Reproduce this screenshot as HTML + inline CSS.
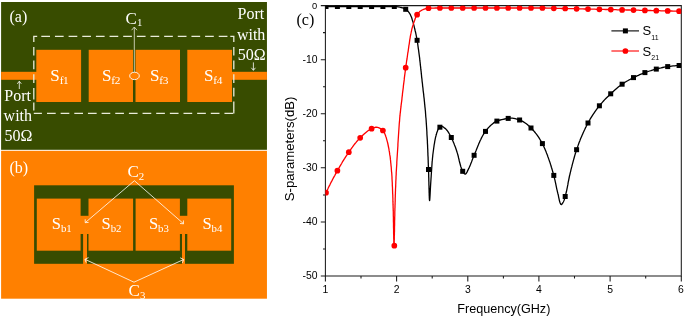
<!DOCTYPE html>
<html lang="en"><head><meta charset="utf-8"><title>Figure</title>
<style>html,body{margin:0;padding:0;background:#fff}svg{display:block}.se{font-family:"Liberation Serif",serif;fill:#fff}.sa{font-family:"Liberation Sans",sans-serif;fill:#000}</style></head><body>
<svg width="685" height="318" viewBox="0 0 685 318">
<rect width="685" height="318" fill="#fff"/>
<rect x="1.1" y="2" width="265.85" height="147.8" fill="#384c00"/>
<rect x="1.1" y="71.8" width="36" height="8" fill="#ff8000"/>
<rect x="231" y="71.8" width="35.95" height="8" fill="#ff8000"/>
<rect x="36.3" y="49.8" width="44.8" height="52.2" fill="#ff8000"/>
<rect x="88.7" y="49.8" width="44.3" height="52.2" fill="#ff8000"/>
<rect x="135.5" y="49.8" width="44.5" height="52.2" fill="#ff8000"/>
<rect x="187.3" y="49.8" width="44.7" height="52.2" fill="#ff8000"/>
<g fill="none" stroke="#e9ebd9" stroke-width="1.3"><path d="M33.8 42 V36.4 H37.2 M230.3 36.4 H233.8 V42 M33.8 113.4 H41.9 M233.8 110 V113.4 M33.8 46.9 v8.7 m0 5 v8.7 m0 5 v8.7 m0 5.1 v11.3 m0 3 v8.2"/><path stroke-dasharray="8.7 4.95" d="M41.3 36.4 H229 M233.8 46.9 V113.4 M47 113.4 H233.8"/></g>
<line x1="134.3" y1="27.3" x2="134.3" y2="72.5" stroke="#e8e8d8" stroke-width="0.8"/>
<path d="M131.6 30.2 L134.3 27 L137 30.2" fill="none" stroke="#e8e8d8" stroke-width="0.8"/>
<ellipse cx="134.5" cy="75.9" rx="4.8" ry="3.7" fill="#ff8000" stroke="#fff" stroke-width="0.9"/>
<g class="se" font-size="16">
<text x="9.5" y="22">(a)</text>
<text x="125.4" y="24.3" font-size="17">C<tspan font-size="10.8" dy="1.6" dx="0.3">1</tspan></text>
<text x="50.2" y="80.8" font-size="17">S<tspan font-size="11.3" dy="3" letter-spacing="-0.3">f1</tspan></text>
<text x="101.9" y="80.8" font-size="17">S<tspan font-size="11.3" dy="3" letter-spacing="-0.3">f2</tspan></text>
<text x="149.9" y="80.8" font-size="17">S<tspan font-size="11.3" dy="3" letter-spacing="-0.3">f3</tspan></text>
<text x="203.9" y="80.8" font-size="17">S<tspan font-size="11.3" dy="3" letter-spacing="-0.3">f4</tspan></text>
<text x="4.3" y="101.2">Port</text><text x="3.6" y="120.6">with</text><text x="4.6" y="141.2">50Ω</text>
<text x="237.6" y="19.4">Port</text><text x="236.9" y="40.2">with</text><text x="237.8" y="59.9">50Ω</text>
</g>
<path d="M19.3 89 V81.5 M17.3 83.8 L19.3 81.2 L21.3 83.8" fill="none" stroke="#fff" stroke-width="0.8"/>
<path d="M253.4 62.4 V70 M251.4 67.8 L253.4 70.4 L255.4 67.8" fill="none" stroke="#fff" stroke-width="0.8"/>
<rect x="1.1" y="150.8" width="265.85" height="147.9" fill="#ff8000"/>
<rect x="34.1" y="185.3" width="199.8" height="78.5" fill="#384c00"/>
<rect x="36.8" y="198.6" width="43.8" height="52.1" fill="#ff8000"/>
<rect x="88.5" y="198.6" width="44.6" height="52.1" fill="#ff8000"/>
<rect x="135.6" y="198.6" width="44.3" height="52.1" fill="#ff8000"/>
<rect x="187.3" y="198.6" width="43.9" height="52.1" fill="#ff8000"/>
<rect x="80" y="215.8" width="10" height="18.2" fill="#ff8000"/>
<rect x="179" y="215.8" width="10" height="18.2" fill="#ff8000"/>
<rect x="83.1" y="230" width="3.9" height="34" fill="#ff8000"/>
<rect x="182" y="230" width="3" height="34" fill="#ff8000"/>
<g fill="none" stroke="#fff" stroke-width="0.8">
<path d="M134.4 180.7 L85.4 222.5 M134.4 180.7 L183.4 223.6"/>
<path d="M85.2 219.3 L85.2 222.7 L88.6 222.4 M180 223.5 L183.5 223.8 L183.4 220.4"/>
<path d="M134 282.2 L85.2 259.4 M134 282.2 L183.4 259.6"/>
<path d="M86.2 262.6 L84.9 259.3 L88.5 257.6 M180.2 257.8 L183.7 259.5 L182.4 262.8"/>
</g>
<g class="se" font-size="16">
<text x="9.5" y="172.5">(b)</text>
<text x="127.4" y="177.1" font-size="17">C<tspan font-size="10.8" dy="2.6">2</tspan></text>
<text x="128.6" y="296" font-size="17">C<tspan font-size="10.8" dy="3.4">3</tspan></text>
<text x="51.7" y="229.1" font-size="16.5">S<tspan font-size="10.8" dy="2.7">b1</tspan></text>
<text x="101.5" y="229.1" font-size="16.5">S<tspan font-size="10.8" dy="2.7">b2</tspan></text>
<text x="148.9" y="229.1" font-size="16.5">S<tspan font-size="10.8" dy="2.7">b3</tspan></text>
<text x="202.4" y="229.1" font-size="16.5">S<tspan font-size="10.8" dy="2.7">b4</tspan></text>
</g>
<g stroke="#1a1a1a" stroke-width="1.05" fill="none">
<path d="M325.4 5.6 H681.3 V276.0 H325.4 Z"/>
<path d="M325.4 276.0 v5.4 M361.0 276.0 v2.6 M396.6 276.0 v5.4 M432.2 276.0 v2.6 M467.8 276.0 v5.4 M503.4 276.0 v2.6 M538.9 276.0 v5.4 M574.5 276.0 v2.6 M610.1 276.0 v5.4 M645.7 276.0 v2.6 M681.3 276.0 v5.4 M325.4 5.6 h-4.6 M325.4 32.6 h-2.4 M325.4 59.7 h-4.6 M325.4 86.7 h-2.4 M325.4 113.8 h-4.6 M325.4 140.8 h-2.4 M325.4 167.8 h-4.6 M325.4 194.9 h-2.4 M325.4 221.9 h-4.6 M325.4 249.0 h-2.4 M325.4 276.0 h-4.6"/>
</g>
<g class="sa" font-size="10.4" text-anchor="middle">
<text x="325.4" y="292.6">1</text>
<text x="396.6" y="292.6">2</text>
<text x="467.8" y="292.6">3</text>
<text x="538.9" y="292.6">4</text>
<text x="610.1" y="292.6">5</text>
<text x="681.0" y="292.6">6</text>
</g><g class="sa" font-size="10.4" text-anchor="end">
<text x="317.2" y="8.7" font-size="9.3">0</text>
<text x="317.5" y="63.0">-10</text>
<text x="317.5" y="117.1">-20</text>
<text x="317.5" y="171.1">-30</text>
<text x="317.5" y="225.2">-40</text>
<text x="317.5" y="279.3">-50</text>
</g>
<text class="sa" font-size="12.6" x="503.8" y="313.4" text-anchor="middle">Frequency(GHz)</text>
<text class="sa" font-size="13.2" transform="translate(294.3 148.9) rotate(-90)" text-anchor="middle">S-parameters(dB)</text>
<text x="296.5" y="24.5" font-size="16" style="font-family:'Liberation Serif',serif" fill="#000">(c)</text>
<clipPath id="cp"><rect x="325.4" y="5.6" width="355.9" height="270.4"/></clipPath><g clip-path="url(#cp)">
<path d="M326.0 6.5 L327.5 6.5 L329.0 6.5 L330.5 6.5 L332.0 6.5 L333.5 6.5 L335.0 6.5 L336.5 6.5 L338.0 6.5 L339.5 6.5 L341.0 6.5 L342.5 6.5 L344.1 6.5 L345.6 6.5 L347.1 6.5 L348.6 6.5 L350.1 6.5 L351.6 6.5 L353.1 6.5 L354.6 6.5 L356.1 6.5 L357.6 6.5 L359.1 6.5 L360.2 6.5 L360.6 6.5 L362.1 6.5 L363.6 6.5 L365.1 6.5 L366.6 6.5 L368.1 6.5 L369.6 6.5 L371.1 6.5 L372.6 6.5 L374.1 6.5 L375.7 6.5 L377.2 6.5 L378.7 6.5 L380.2 6.5 L381.7 6.5 L383.2 6.5 L384.7 6.5 L386.2 6.5 L387.7 6.5 L389.2 6.5 L390.7 6.5 L392.2 6.5 L393.7 6.5 L394.3 6.5 L395.2 6.5 L396.7 6.7 L398.2 6.9 L399.7 7.1 L400.0 7.2 L401.1 7.5 L402.6 7.9 L404.1 8.5 L405.4 9.1 L405.7 9.3 L406.6 9.9 L407.7 10.9 L408.7 12.1 L409.6 13.4 L410.0 14.0 L410.3 14.6 L410.9 15.9 L411.5 17.3 L412.0 18.8 L412.4 20.3 L412.9 21.7 L413.3 23.2 L413.5 24.0 L413.7 24.7 L414.1 26.1 L414.4 27.6 L414.8 29.0 L415.1 30.5 L415.5 32.0 L415.8 33.4 L416.1 34.9 L416.4 36.4 L416.7 37.9 L417.0 39.3 L417.1 40.3 L417.2 40.8 L417.5 42.3 L417.7 43.8 L417.9 45.3 L418.1 46.8 L418.3 48.3 L418.5 49.7 L418.7 51.2 L418.9 52.7 L419.1 54.2 L419.2 55.0 L419.3 55.7 L419.5 57.2 L419.7 58.7 L419.8 60.2 L420.0 61.7 L420.2 63.2 L420.3 64.7 L420.5 66.2 L420.7 67.7 L420.8 69.2 L421.0 70.7 L421.2 72.2 L421.3 73.7 L421.5 75.2 L421.6 76.6 L421.8 78.1 L422.0 79.6 L422.0 80.0 L422.1 81.1 L422.3 82.6 L422.5 84.1 L422.6 85.6 L422.8 87.1 L423.0 88.6 L423.1 90.1 L423.3 91.6 L423.5 93.1 L423.7 94.6 L423.8 96.1 L424.0 97.6 L424.2 99.1 L424.3 100.6 L424.5 102.1 L424.6 103.6 L424.8 105.1 L424.9 106.6 L425.1 108.1 L425.2 109.5 L425.4 111.0 L425.5 112.5 L425.6 114.0 L425.6 114.0 L425.7 115.5 L425.8 117.0 L426.0 118.5 L426.1 120.0 L426.2 121.5 L426.3 123.0 L426.4 124.5 L426.5 126.0 L426.6 127.5 L426.7 129.0 L426.8 130.5 L426.9 132.0 L426.9 133.5 L427.0 135.1 L427.1 136.6 L427.2 138.1 L427.3 139.6 L427.3 140.0 L427.4 141.1 L427.4 142.6 L427.5 144.1 L427.6 145.6 L427.6 147.1 L427.7 148.6 L427.8 150.1 L427.8 151.6 L427.9 153.1 L427.9 154.6 L428.0 156.1 L428.1 157.6 L428.1 159.1 L428.2 160.6 L428.2 162.1 L428.3 163.6 L428.3 165.1 L428.4 166.6 L428.5 168.1 L428.5 169.5 L428.5 169.6 L428.6 171.2 L428.6 172.9 L428.7 174.7 L428.7 176.6 L428.8 178.5 L428.8 180.5 L428.9 182.5 L428.9 184.5 L429.0 186.5 L429.0 188.4 L429.1 190.3 L429.1 192.1 L429.2 193.7 L429.2 195.3 L429.3 196.6 L429.3 197.9 L429.4 198.9 L429.4 199.7 L429.5 200.2 L429.6 200.5 L429.6 200.6 L429.6 200.6 L429.7 200.1 L429.8 199.1 L429.9 197.8 L430.0 196.2 L430.1 194.4 L430.2 192.4 L430.3 190.4 L430.4 188.5 L430.5 186.6 L430.6 185.0 L430.6 185.0 L430.7 183.5 L430.8 182.0 L430.9 180.5 L431.0 179.0 L431.1 177.5 L431.2 176.0 L431.3 174.5 L431.4 173.0 L431.5 171.5 L431.6 170.0 L431.7 168.5 L431.8 167.0 L431.9 165.5 L432.0 164.0 L432.1 162.5 L432.2 161.0 L432.3 160.4 L432.4 159.5 L432.5 158.0 L432.7 156.5 L432.8 155.0 L433.0 153.5 L433.2 152.0 L433.4 150.5 L433.6 149.0 L433.8 147.5 L434.0 146.1 L434.0 146.0 L434.2 144.6 L434.5 143.1 L434.7 141.6 L435.0 140.1 L435.3 138.6 L435.6 137.1 L436.0 135.7 L436.3 134.5 L436.4 134.3 L436.8 132.7 L437.4 131.2 L438.0 129.6 L438.7 128.3 L439.6 127.3 L439.9 127.0 L440.7 126.6 L441.6 126.4 L442.2 126.5 L443.6 127.2 L444.8 128.2 L445.0 128.3 L445.9 129.1 L446.9 130.2 L447.8 131.4 L448.6 132.7 L449.4 134.0 L450.2 135.4 L450.9 136.8 L451.3 137.5 L451.6 138.1 L452.2 139.4 L452.8 140.8 L453.4 142.2 L454.0 143.6 L454.5 145.0 L455.1 146.4 L455.6 147.8 L456.1 149.3 L456.6 150.7 L457.0 152.0 L457.0 152.1 L457.5 153.6 L457.9 155.0 L458.3 156.5 L458.6 158.0 L459.0 159.5 L459.3 161.0 L459.7 162.5 L460.1 164.0 L460.5 165.5 L460.9 166.9 L461.4 168.3 L461.9 169.6 L462.5 170.9 L462.7 171.3 L463.3 172.3 L464.3 173.7 L465.2 174.2 L465.3 174.2 L466.2 173.5 L467.0 172.1 L467.8 170.4 L468.5 169.0 L468.5 168.9 L469.2 167.6 L469.8 166.2 L470.4 164.8 L470.9 163.4 L471.5 162.0 L472.0 160.6 L472.5 159.2 L473.1 157.8 L473.6 156.4 L474.1 155.3 L474.2 155.0 L474.8 153.6 L475.4 152.2 L476.0 150.8 L476.5 149.4 L477.1 147.9 L477.7 146.5 L478.3 145.1 L478.9 143.6 L479.5 142.2 L480.1 140.8 L480.8 139.5 L481.4 138.1 L482.1 136.8 L482.8 135.5 L483.6 134.2 L484.3 133.0 L485.1 131.8 L485.5 131.4 L486.0 130.7 L486.9 129.5 L487.9 128.3 L489.0 127.1 L490.1 126.0 L491.2 124.9 L492.4 123.9 L493.6 122.9 L494.8 122.1 L496.1 121.4 L496.9 121.1 L497.4 120.9 L498.7 120.4 L500.2 120.0 L501.6 119.6 L503.1 119.3 L504.7 119.0 L506.2 118.7 L507.7 118.5 L508.2 118.4 L509.2 118.3 L510.7 118.1 L511.0 118.1 L512.2 118.2 L513.7 118.3 L515.2 118.7 L516.7 119.1 L518.1 119.5 L519.5 120.0 L519.6 120.0 L520.9 120.5 L522.2 121.1 L523.5 121.9 L524.8 122.7 L526.0 123.6 L527.3 124.6 L528.4 125.6 L529.6 126.6 L530.7 127.7 L531.0 128.0 L531.7 128.7 L532.7 129.7 L533.7 130.8 L534.7 132.0 L535.6 133.2 L536.6 134.4 L537.5 135.6 L538.4 136.9 L539.2 138.2 L540.0 139.5 L540.8 140.8 L541.6 142.1 L542.3 143.4 L542.4 143.6 L543.0 144.7 L543.6 146.0 L544.2 147.4 L544.8 148.8 L545.4 150.2 L546.0 151.6 L546.5 153.0 L547.1 154.4 L547.6 155.8 L548.0 157.0 L548.1 157.2 L548.6 158.6 L549.1 160.1 L549.6 161.5 L550.1 162.9 L550.5 164.3 L551.0 165.8 L551.4 167.2 L551.9 168.7 L552.3 170.1 L552.7 171.5 L553.1 173.0 L553.5 174.4 L553.8 175.4 L553.9 175.9 L554.3 177.3 L554.6 178.8 L555.0 180.3 L555.3 181.8 L555.6 183.2 L555.9 184.7 L556.2 186.2 L556.5 187.7 L556.8 189.1 L557.2 190.6 L557.5 192.1 L557.9 193.5 L558.0 194.0 L558.3 195.0 L558.6 196.8 L559.0 198.7 L559.4 200.6 L559.9 202.2 L560.4 203.6 L560.9 204.4 L561.4 204.6 L561.6 204.5 L562.5 203.4 L563.3 202.0 L563.4 201.8 L564.0 200.5 L564.5 199.1 L564.9 197.6 L565.2 196.5 L565.3 196.1 L565.7 194.7 L566.0 193.2 L566.4 191.8 L566.7 190.3 L567.0 188.8 L567.3 187.4 L567.6 185.9 L567.9 184.4 L568.1 182.9 L568.4 181.4 L568.7 180.0 L569.0 178.5 L569.3 177.0 L569.6 175.5 L570.0 174.1 L570.0 174.0 L570.3 172.6 L570.7 171.1 L571.0 169.7 L571.4 168.2 L571.8 166.7 L572.1 165.3 L572.5 163.8 L572.9 162.4 L573.3 160.9 L573.7 159.4 L574.1 158.0 L574.5 156.5 L574.9 155.1 L575.3 153.7 L575.8 152.2 L576.2 150.8 L576.6 149.7 L576.7 149.4 L577.2 148.0 L577.7 146.6 L578.2 145.1 L578.7 143.7 L579.2 142.3 L579.8 140.9 L580.3 139.5 L580.9 138.1 L581.5 136.7 L582.1 135.3 L582.7 133.9 L583.3 132.5 L583.9 131.2 L584.6 129.8 L585.2 128.4 L585.9 127.1 L586.5 125.8 L587.2 124.4 L587.9 123.1 L588.0 123.0 L588.6 121.8 L589.4 120.5 L590.1 119.2 L590.9 117.9 L591.7 116.6 L592.5 115.3 L593.3 114.1 L594.2 112.8 L595.0 111.6 L595.9 110.3 L596.8 109.1 L597.7 107.9 L598.6 106.7 L599.4 105.8 L599.6 105.6 L600.5 104.4 L601.5 103.3 L602.5 102.1 L603.5 101.0 L604.5 99.9 L605.6 98.8 L606.6 97.8 L607.7 96.7 L608.8 95.7 L609.9 94.6 L610.8 93.8 L611.0 93.6 L612.1 92.6 L613.2 91.5 L614.3 90.5 L615.4 89.5 L616.6 88.5 L617.7 87.6 L618.9 86.6 L620.1 85.7 L621.3 84.8 L622.1 84.2 L622.5 83.9 L623.8 83.1 L625.0 82.3 L626.3 81.5 L627.6 80.8 L628.9 80.0 L630.3 79.3 L631.6 78.6 L632.9 77.9 L633.5 77.6 L634.3 77.2 L635.6 76.6 L637.0 75.9 L638.4 75.3 L639.7 74.7 L641.1 74.1 L642.5 73.5 L643.9 73.0 L644.9 72.6 L645.3 72.5 L646.7 72.0 L648.2 71.5 L649.6 71.0 L651.0 70.6 L652.5 70.1 L653.9 69.7 L655.4 69.3 L656.3 69.1 L656.8 69.0 L658.3 68.6 L659.8 68.2 L661.2 67.9 L662.7 67.5 L664.2 67.2 L665.6 66.9 L667.1 66.7 L667.7 66.6 L668.6 66.5 L670.1 66.3 L671.6 66.1 L673.1 65.9 L674.6 65.8 L676.1 65.7 L677.6 65.6 L679.1 65.5" fill="none" stroke="#000" stroke-width="1.3" stroke-linejoin="round"/>
<path d="M326.0 192.7 L326.6 191.3 L327.3 190.0 L328.0 188.6 L328.6 187.3 L329.3 185.9 L330.0 184.6 L330.6 183.2 L331.3 181.9 L332.0 180.6 L332.7 179.2 L333.4 177.9 L334.1 176.6 L334.9 175.3 L335.6 173.9 L336.3 172.6 L337.0 171.3 L337.4 170.7 L337.8 170.0 L338.5 168.7 L339.3 167.4 L340.0 166.1 L340.8 164.8 L341.6 163.5 L342.3 162.2 L343.1 160.9 L343.9 159.6 L344.7 158.4 L345.5 157.1 L346.3 155.8 L347.2 154.6 L348.0 153.3 L348.8 152.2 L348.9 152.1 L349.7 150.9 L350.6 149.6 L351.5 148.4 L352.4 147.2 L353.3 145.9 L354.2 144.7 L355.1 143.5 L356.1 142.4 L357.0 141.2 L358.0 140.1 L359.0 139.0 L360.0 137.9 L360.2 137.8 L361.1 136.9 L362.2 135.8 L363.3 134.7 L364.4 133.7 L365.6 132.7 L366.8 131.7 L368.0 130.8 L369.2 129.9 L370.5 129.2 L371.6 128.7 L371.8 128.6 L373.2 128.0 L374.7 127.5 L376.1 127.2 L376.3 127.2 L377.6 127.4 L379.1 127.9 L380.5 128.6 L381.8 129.5 L382.9 130.4 L382.9 130.5 L383.7 131.5 L384.4 132.8 L385.0 134.3 L385.6 135.8 L386.0 137.0 L386.1 137.2 L386.5 138.7 L386.9 140.1 L387.3 141.6 L387.7 143.0 L388.0 144.5 L388.3 146.0 L388.5 147.0 L388.6 147.5 L388.9 148.9 L389.1 150.4 L389.4 151.9 L389.6 153.4 L389.8 154.9 L390.1 156.4 L390.3 157.9 L390.4 159.4 L390.5 160.0 L390.6 160.9 L390.7 162.3 L390.9 163.8 L391.0 165.3 L391.2 166.8 L391.3 168.3 L391.4 169.8 L391.5 171.3 L391.7 172.8 L391.8 174.3 L391.9 175.8 L392.0 177.3 L392.0 178.8 L392.1 180.0 L392.1 180.3 L392.2 181.8 L392.3 183.3 L392.3 184.9 L392.4 186.4 L392.5 187.9 L392.5 189.4 L392.6 190.9 L392.6 192.4 L392.7 193.9 L392.8 195.4 L392.8 196.9 L392.9 198.4 L392.9 199.9 L392.9 201.4 L393.0 202.9 L393.0 204.4 L393.1 205.9 L393.1 207.4 L393.2 208.9 L393.2 210.0 L393.2 210.4 L393.3 212.0 L393.3 213.7 L393.3 215.5 L393.4 217.4 L393.4 219.3 L393.4 221.3 L393.5 223.3 L393.5 225.3 L393.5 227.3 L393.6 229.2 L393.6 231.2 L393.6 233.1 L393.7 234.9 L393.7 236.6 L393.7 238.2 L393.8 239.7 L393.8 241.1 L393.8 242.3 L393.8 243.4 L393.9 244.3 L393.9 245.0 L393.9 245.4 L394.0 245.7 L394.0 245.7 L394.0 245.7 L394.1 245.4 L394.1 244.9 L394.1 244.2 L394.2 243.3 L394.2 242.3 L394.2 241.0 L394.3 239.7 L394.3 238.1 L394.3 236.5 L394.4 234.8 L394.4 233.0 L394.5 231.1 L394.5 229.1 L394.5 227.1 L394.6 225.1 L394.6 223.1 L394.6 221.1 L394.7 219.2 L394.7 217.3 L394.8 215.4 L394.8 213.6 L394.8 211.9 L394.9 210.3 L394.9 210.0 L394.9 208.8 L395.0 207.3 L395.0 205.8 L395.1 204.3 L395.1 202.8 L395.2 201.3 L395.2 199.8 L395.2 198.3 L395.3 196.8 L395.3 195.3 L395.4 193.8 L395.4 192.3 L395.5 190.8 L395.5 189.3 L395.6 187.8 L395.7 186.3 L395.7 184.8 L395.8 183.3 L395.8 181.8 L395.9 180.3 L395.9 180.0 L396.0 178.8 L396.0 177.3 L396.1 175.8 L396.2 174.2 L396.2 172.7 L396.3 171.2 L396.4 169.7 L396.5 168.2 L396.6 166.7 L396.7 165.2 L396.8 163.7 L396.8 162.2 L396.9 160.7 L397.0 159.2 L397.1 157.7 L397.2 156.2 L397.3 154.7 L397.4 153.2 L397.5 151.7 L397.6 150.2 L397.6 150.0 L397.7 148.7 L397.8 147.2 L397.9 145.7 L397.9 144.2 L398.0 142.7 L398.1 141.2 L398.2 139.7 L398.3 138.2 L398.4 136.7 L398.5 135.2 L398.6 133.7 L398.7 132.2 L398.8 130.7 L398.9 129.2 L399.0 127.7 L399.1 126.2 L399.2 124.7 L399.3 123.2 L399.5 121.7 L399.6 120.2 L399.6 120.0 L399.7 118.7 L399.8 117.2 L400.0 115.7 L400.1 114.2 L400.3 112.7 L400.5 111.2 L400.6 109.7 L400.8 108.2 L401.0 106.7 L401.1 105.3 L401.3 103.8 L401.5 102.3 L401.7 100.8 L401.9 99.3 L402.0 98.0 L402.0 97.8 L402.2 96.3 L402.4 94.8 L402.5 93.3 L402.7 91.8 L402.9 90.3 L403.1 88.8 L403.3 87.3 L403.4 85.8 L403.6 84.3 L403.8 82.8 L404.0 81.4 L404.2 79.9 L404.3 78.4 L404.5 76.9 L404.7 75.4 L404.9 73.9 L405.1 72.4 L405.3 70.9 L405.5 69.4 L405.7 67.9 L405.7 67.7 L405.9 66.4 L406.1 64.9 L406.3 63.5 L406.5 62.0 L406.7 60.5 L407.0 59.0 L407.2 57.5 L407.4 56.0 L407.6 54.5 L407.8 53.0 L408.1 51.6 L408.3 50.1 L408.3 50.0 L408.5 48.6 L408.7 47.1 L408.9 45.6 L409.2 44.1 L409.4 42.6 L409.6 41.1 L409.8 39.6 L410.1 38.1 L410.3 36.7 L410.6 35.2 L410.9 33.7 L411.0 33.0 L411.2 32.2 L411.5 30.8 L411.8 29.3 L412.2 27.9 L412.6 26.4 L413.1 25.0 L413.5 23.5 L414.0 22.1 L414.0 22.0 L414.5 20.7 L415.0 19.2 L415.5 17.8 L416.2 16.4 L416.9 15.1 L417.1 14.7 L417.7 13.9 L418.6 12.7 L419.7 11.6 L420.9 10.7 L421.0 10.6 L422.2 10.0 L423.6 9.4 L425.0 8.9 L425.0 8.9 L426.5 8.5 L428.0 8.2 L428.5 8.2 L429.4 8.2 L430.9 8.1 L432.4 8.1 L434.0 8.1 L435.5 8.0 L437.0 8.0 L438.5 8.0 L439.9 8.0 L440.0 8.0 L441.5 8.0 L443.0 8.0 L444.5 8.0 L446.0 8.0 L447.5 8.0 L449.0 8.0 L450.5 8.0 L451.3 8.0 L452.0 8.0 L453.5 8.0 L455.0 8.0 L456.5 8.0 L458.0 8.0 L459.5 8.0 L461.0 8.0 L462.5 8.0 L462.7 8.0 L464.0 8.0 L465.6 8.0 L467.1 8.0 L468.6 8.0 L470.1 8.0 L471.6 8.0 L473.1 8.0 L474.1 8.0 L474.6 8.0 L476.1 8.0 L477.6 8.0 L479.1 8.0 L480.6 8.0 L482.1 8.0 L483.6 8.0 L485.1 8.0 L485.5 8.0 L486.6 8.0 L488.1 8.0 L489.6 8.0 L491.1 8.0 L492.6 8.0 L494.1 8.0 L495.6 8.0 L496.9 8.0 L497.1 8.0 L498.6 8.0 L500.1 8.0 L501.7 8.0 L503.2 8.0 L504.7 8.0 L506.2 8.0 L507.7 8.0 L508.2 8.0 L509.2 8.0 L510.7 8.0 L512.2 8.0 L513.7 8.0 L515.2 8.0 L516.7 8.0 L518.2 8.0 L519.6 8.0 L519.7 8.0 L521.2 8.0 L522.7 8.0 L524.2 8.0 L525.7 8.0 L527.2 8.0 L528.7 8.0 L530.2 8.0 L531.0 8.0 L531.7 8.0 L533.2 8.0 L534.7 8.0 L536.2 8.0 L537.7 8.0 L539.3 8.0 L540.8 8.0 L542.3 8.0 L542.4 8.0 L543.8 8.0 L545.3 8.0 L546.8 8.1 L548.3 8.1 L549.8 8.2 L551.3 8.2 L552.8 8.2 L553.8 8.3 L554.3 8.3 L555.8 8.3 L557.3 8.3 L558.8 8.4 L560.3 8.4 L561.8 8.5 L563.3 8.5 L564.8 8.5 L565.2 8.5 L566.3 8.6 L567.8 8.6 L569.3 8.6 L570.8 8.7 L572.3 8.7 L573.8 8.7 L575.3 8.8 L576.6 8.8 L576.8 8.8 L578.3 8.8 L579.9 8.9 L581.4 8.9 L582.9 8.9 L584.4 9.0 L585.9 9.0 L587.4 9.1 L588.0 9.1 L588.9 9.1 L590.4 9.1 L591.9 9.2 L593.4 9.2 L594.9 9.2 L596.4 9.3 L597.9 9.3 L599.4 9.3 L599.4 9.3 L600.9 9.4 L602.4 9.4 L603.9 9.4 L605.4 9.5 L606.9 9.5 L608.4 9.5 L609.9 9.6 L610.8 9.6 L611.4 9.6 L612.9 9.7 L614.4 9.7 L615.9 9.7 L617.4 9.8 L618.9 9.8 L620.4 9.8 L622.0 9.9 L622.1 9.9 L623.5 9.9 L625.0 9.9 L626.5 10.0 L628.0 10.0 L629.5 10.0 L631.0 10.1 L632.5 10.1 L633.5 10.1 L634.0 10.1 L635.5 10.2 L637.0 10.2 L638.5 10.2 L640.0 10.3 L641.5 10.3 L643.0 10.4 L644.5 10.4 L644.9 10.4 L646.0 10.4 L647.5 10.5 L649.0 10.5 L650.5 10.5 L652.0 10.6 L653.5 10.6 L655.0 10.6 L656.3 10.7 L656.5 10.7 L658.0 10.7 L659.5 10.7 L661.0 10.8 L662.6 10.8 L664.1 10.8 L665.6 10.9 L667.1 10.9 L667.7 10.9 L668.6 11.0 L670.1 11.0 L671.6 11.0 L673.1 11.1 L674.6 11.1 L676.1 11.1 L677.6 11.2 L679.1 11.2" fill="none" stroke="#f00" stroke-width="1.3" stroke-linejoin="round"/>
<g fill="#000"><rect x="323.5" y="4.0" width="5" height="5"/><rect x="334.9" y="4.0" width="5" height="5"/><rect x="346.3" y="4.0" width="5" height="5"/><rect x="357.7" y="4.0" width="5" height="5"/><rect x="369.1" y="4.0" width="5" height="5"/><rect x="380.4" y="4.0" width="5" height="5"/><rect x="391.8" y="4.0" width="5" height="5"/><rect x="403.2" y="6.8" width="5" height="5"/><rect x="414.6" y="37.8" width="5" height="5"/><rect x="426.0" y="167.0" width="5" height="5"/><rect x="437.4" y="124.7" width="5" height="5"/><rect x="448.8" y="135.0" width="5" height="5"/><rect x="460.2" y="168.8" width="5" height="5"/><rect x="471.6" y="152.8" width="5" height="5"/><rect x="483.0" y="128.9" width="5" height="5"/><rect x="494.4" y="118.6" width="5" height="5"/><rect x="505.7" y="115.9" width="5" height="5"/><rect x="517.1" y="117.5" width="5" height="5"/><rect x="528.5" y="125.5" width="5" height="5"/><rect x="539.9" y="141.1" width="5" height="5"/><rect x="551.3" y="172.9" width="5" height="5"/><rect x="562.7" y="194.0" width="5" height="5"/><rect x="574.1" y="147.2" width="5" height="5"/><rect x="585.5" y="120.5" width="5" height="5"/><rect x="596.9" y="103.3" width="5" height="5"/><rect x="608.2" y="91.3" width="5" height="5"/><rect x="619.6" y="81.7" width="5" height="5"/><rect x="631.0" y="75.1" width="5" height="5"/><rect x="642.4" y="70.1" width="5" height="5"/><rect x="653.8" y="66.6" width="5" height="5"/><rect x="665.2" y="64.1" width="5" height="5"/><rect x="676.6" y="63.0" width="5" height="5"/></g>
<g fill="#f00"><circle cx="326.0" cy="192.7" r="2.85"/><circle cx="337.4" cy="170.7" r="2.85"/><circle cx="348.8" cy="152.2" r="2.85"/><circle cx="360.2" cy="137.8" r="2.85"/><circle cx="371.6" cy="128.7" r="2.85"/><circle cx="382.9" cy="130.5" r="2.85"/><circle cx="394.3" cy="245.7" r="2.85"/><circle cx="405.7" cy="67.7" r="2.85"/><circle cx="417.1" cy="14.7" r="2.85"/><circle cx="428.5" cy="8.2" r="2.85"/><circle cx="439.9" cy="8.0" r="2.85"/><circle cx="451.3" cy="8.0" r="2.85"/><circle cx="462.7" cy="8.0" r="2.85"/><circle cx="474.1" cy="8.0" r="2.85"/><circle cx="485.5" cy="8.0" r="2.85"/><circle cx="496.9" cy="8.0" r="2.85"/><circle cx="508.2" cy="8.0" r="2.85"/><circle cx="519.6" cy="8.0" r="2.85"/><circle cx="531.0" cy="8.0" r="2.85"/><circle cx="542.4" cy="8.0" r="2.85"/><circle cx="553.8" cy="8.3" r="2.85"/><circle cx="565.2" cy="8.5" r="2.85"/><circle cx="576.6" cy="8.8" r="2.85"/><circle cx="588.0" cy="9.1" r="2.85"/><circle cx="599.4" cy="9.3" r="2.85"/><circle cx="610.8" cy="9.6" r="2.85"/><circle cx="622.1" cy="9.9" r="2.85"/><circle cx="633.5" cy="10.1" r="2.85"/><circle cx="644.9" cy="10.4" r="2.85"/><circle cx="656.3" cy="10.7" r="2.85"/><circle cx="667.7" cy="10.9" r="2.85"/><circle cx="679.1" cy="11.2" r="2.85"/></g>
</g>
<path d="M611.4 30.9 H639" stroke="#000" stroke-width="1.1"/><rect x="622.9" y="28.4" width="5" height="5" fill="#000"/>
<path d="M611.4 51 H639" stroke="#f00" stroke-width="1.1"/><circle cx="625.4" cy="51" r="2.85" fill="#f00"/>
<text class="sa" font-size="13" x="642.6" y="35.4">S<tspan font-size="7" dy="4.9">11</tspan></text>
<text class="sa" font-size="13" x="642.6" y="55.5">S<tspan font-size="7" dy="4.9">21</tspan></text>
</svg></body></html>
